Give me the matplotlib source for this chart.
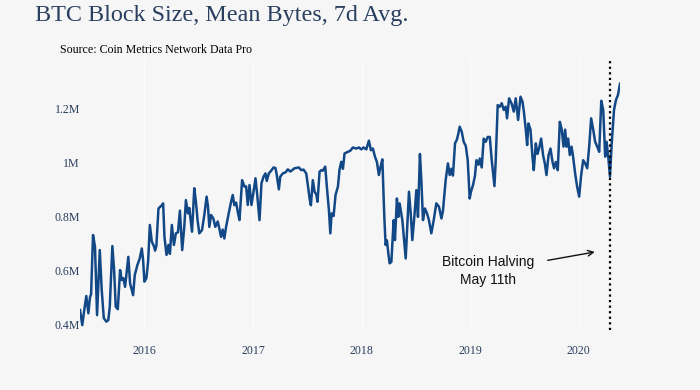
import matplotlib
matplotlib.use("Agg")
import matplotlib.pyplot as plt
import matplotlib.dates as mdates
import numpy as np
from datetime import datetime, timedelta

# decimal year of each 7d-average point
years = [
    2015.410, 2015.431, 2015.447, 2015.468, 2015.487, 2015.502, 2015.512, 2015.530,
    2015.548, 2015.567, 2015.592, 2015.610, 2015.629, 2015.653, 2015.671, 2015.684,
    2015.708, 2015.724, 2015.739, 2015.758, 2015.779, 2015.795, 2015.809, 2015.825,
    2015.855, 2015.871, 2015.899, 2015.914, 2015.938, 2015.960, 2015.979, 2015.991,
    2016.003, 2016.021, 2016.037, 2016.053, 2016.071, 2016.089, 2016.101, 2016.113,
    2016.132, 2016.163, 2016.175, 2016.187, 2016.206, 2016.224, 2016.237, 2016.255,
    2016.274, 2016.292, 2016.311, 2016.329, 2016.350, 2016.369, 2016.384, 2016.403,
    2016.415, 2016.440, 2016.461, 2016.476, 2016.491, 2016.507, 2016.532, 2016.553,
    2016.574, 2016.587, 2016.599, 2016.615, 2016.636, 2016.654, 2016.676, 2016.691,
    2016.707, 2016.722, 2016.737, 2016.753, 2016.777, 2016.799, 2016.814, 2016.829,
    2016.845, 2016.860, 2016.876, 2016.900, 2016.922, 2016.937, 2016.952, 2016.968,
    2016.986, 2017.005, 2017.023, 2017.039, 2017.060, 2017.078, 2017.097, 2017.115,
    2017.127, 2017.146, 2017.171, 2017.189, 2017.207, 2017.219, 2017.238, 2017.251,
    2017.275, 2017.300, 2017.321, 2017.343, 2017.361, 2017.382, 2017.422, 2017.444,
    2017.465, 2017.490, 2017.505, 2017.521, 2017.533, 2017.551, 2017.567, 2017.583,
    2017.594, 2017.613, 2017.629, 2017.643, 2017.665, 2017.680, 2017.699, 2017.712,
    2017.724, 2017.742, 2017.760, 2017.782, 2017.797, 2017.813, 2017.828, 2017.843,
    2017.874, 2017.896, 2017.920, 2017.951, 2017.975, 2017.997, 2018.018, 2018.043,
    2018.067, 2018.086, 2018.104, 2018.123, 2018.141, 2018.159, 2018.175, 2018.191,
    2018.209, 2018.221, 2018.233, 2018.246, 2018.258, 2018.274, 2018.295, 2018.307,
    2018.325, 2018.338, 2018.350, 2018.375, 2018.406, 2018.436, 2018.452, 2018.467,
    2018.488, 2018.504, 2018.519, 2018.537, 2018.550, 2018.565, 2018.583, 2018.602,
    2018.620, 2018.642, 2018.664, 2018.688, 2018.712, 2018.735, 2018.749, 2018.774,
    2018.795, 2018.811, 2018.827, 2018.841, 2018.860, 2018.878, 2018.891, 2018.903,
    2018.922, 2018.940, 2018.959, 2018.977, 2018.995, 2019.007, 2019.026, 2019.044,
    2019.057, 2019.076, 2019.088, 2019.106, 2019.124, 2019.143, 2019.161, 2019.180,
    2019.198, 2019.223, 2019.235, 2019.253, 2019.272, 2019.290, 2019.309, 2019.327,
    2019.339, 2019.358, 2019.380, 2019.401, 2019.419, 2019.441, 2019.463, 2019.481,
    2019.493, 2019.512, 2019.524, 2019.536, 2019.555, 2019.573, 2019.585, 2019.604,
    2019.619, 2019.634, 2019.653, 2019.671, 2019.687, 2019.702, 2019.721, 2019.739,
    2019.758, 2019.772, 2019.788, 2019.806, 2019.825, 2019.843, 2019.859, 2019.874,
    2019.887, 2019.901, 2019.917, 2019.933, 2019.947, 2019.966, 2019.984, 2020.003,
    2020.021, 2020.040, 2020.058, 2020.077, 2020.095, 2020.113, 2020.132, 2020.150,
    2020.169, 2020.187, 2020.206, 2020.224, 2020.242, 2020.255, 2020.270, 2020.286,
    2020.301, 2020.323, 2020.341, 2020.359, 2020.378,
]

# mean block size, millions of bytes
block_size_m = [
    0.452, 0.396, 0.446, 0.504, 0.440, 0.500, 0.510, 0.730,
    0.686, 0.433, 0.674, 0.526, 0.422, 0.409, 0.415, 0.464,
    0.689, 0.600, 0.464, 0.455, 0.600, 0.563, 0.570, 0.538,
    0.649, 0.551, 0.507, 0.581, 0.618, 0.643, 0.680, 0.637,
    0.557, 0.570, 0.631, 0.767, 0.705, 0.690, 0.672, 0.690,
    0.828, 0.840, 0.847, 0.723, 0.656, 0.693, 0.660, 0.767,
    0.693, 0.736, 0.740, 0.820, 0.674, 0.760, 0.859, 0.810,
    0.830, 0.742, 0.903, 0.853, 0.785, 0.736, 0.748, 0.804,
    0.872, 0.835, 0.760, 0.804, 0.791, 0.760, 0.780, 0.754,
    0.723, 0.750, 0.717, 0.760, 0.810, 0.853, 0.878, 0.840,
    0.850, 0.816, 0.785, 0.933, 0.909, 0.910, 0.841, 0.915,
    0.841, 0.890, 0.940, 0.878, 0.785, 0.921, 0.946, 0.958,
    0.930, 0.958, 0.970, 0.980, 0.978, 0.952, 0.899, 0.946,
    0.958, 0.962, 0.973, 0.965, 0.970, 0.977, 0.980, 0.970,
    0.972, 0.958, 0.915, 0.865, 0.840, 0.933, 0.890, 0.880,
    0.853, 0.964, 0.970, 0.968, 0.983, 0.909, 0.822, 0.736,
    0.810, 0.800, 0.878, 0.909, 0.973, 1.001, 0.975, 1.032,
    1.038, 1.042, 1.054, 1.050, 1.054, 1.047, 1.054, 1.047,
    1.079, 1.044, 1.050, 1.020, 1.000, 0.952, 0.983, 1.010,
    0.797, 0.693, 0.710, 0.662, 0.625, 0.630, 0.785, 0.711,
    0.865, 0.797, 0.847, 0.785, 0.643, 0.890, 0.810, 0.711,
    0.810, 0.896, 0.797, 1.030, 0.933, 0.785, 0.828, 0.810,
    0.785, 0.736, 0.785, 0.847, 0.835, 0.791, 0.820, 0.933,
    0.995, 0.952, 0.975, 0.950, 1.069, 1.084, 1.106, 1.131,
    1.112, 1.075, 1.060, 1.007, 0.865, 0.890, 0.915, 0.950,
    1.007, 0.990, 1.013, 0.980, 1.087, 1.075, 1.093, 1.093,
    1.007, 0.911, 1.007, 1.211, 1.205, 1.218, 1.193, 1.205,
    1.162, 1.236, 1.218, 1.187, 1.236, 1.156, 1.242, 1.224,
    1.190, 1.119, 1.063, 1.143, 1.120, 1.020, 0.970, 1.069,
    1.030, 1.050, 1.087, 1.025, 0.995, 0.952, 1.025, 1.050,
    1.000, 0.977, 1.000, 0.970, 1.149, 1.120, 1.057, 1.120,
    1.057, 1.087, 1.026, 1.057, 1.020, 0.958, 0.909, 0.872,
    0.950, 1.007, 0.995, 0.977, 1.057, 1.162, 1.120, 1.075,
    1.057, 1.038, 1.227, 1.193, 1.020, 1.075, 1.020, 0.946,
    1.063, 1.193, 1.230, 1.248, 1.290,
]

halving_year = 2020.286
arrow_year, arrow_value = 2020.147, 0.667
y_ticks = [0.4, 0.6, 0.8, 1.0, 1.2]
y_tick_labels = ["0.4M", "0.6M", "0.8M", "1M", "1.2M"]
x_tick_years = [2016, 2017, 2018, 2019, 2020]


def to_date(y):
    start = datetime(int(y), 1, 1)
    end = datetime(int(y) + 1, 1, 1)
    return start + timedelta(seconds=(y - int(y)) * (end - start).total_seconds())


dates = [to_date(y) for y in years]
bg = "#f6f6f6"
ink = "#2a3f5f"

fig = plt.figure(figsize=(7, 3.9), dpi=100, facecolor=bg)
ax = fig.add_axes([80 / 700, 60 / 390, 540 / 700, 270 / 390])
ax.set_facecolor(bg)

ax.plot(dates, block_size_m, color="#134887", linewidth=1.8, solid_joinstyle="round")

ax.set_xlim(dates[0], dates[-1])
ax.set_ylim(0.378, 1.378)

ax.set_yticks(y_ticks)
ax.set_yticklabels(y_tick_labels)
ax.set_xticks([datetime(y, 1, 1) for y in x_tick_years])
ax.xaxis.set_major_formatter(mdates.DateFormatter("%Y"))
ax.tick_params(axis="both", length=0, labelsize=8.6, labelcolor=ink,
               labelfontfamily="Liberation Serif")
ax.tick_params(axis="x", pad=11)
ax.tick_params(axis="y", pad=0)
ax.grid(axis="x", color="#fcfcfc", linewidth=1.0)
ax.grid(axis="y", visible=False)
for s in ax.spines.values():
    s.set_visible(False)

# halving marker
ax.axvline(to_date(halving_year), color="black", linestyle=(0, (1, 1.5)), linewidth=1.6)
ax.annotate("Bitcoin Halving\nMay 11th", xy=(to_date(arrow_year), arrow_value),
            xytext=(-107, -19), textcoords="offset pixels",
            ha="center", va="center", fontsize=10, family="Liberation Sans",
            color="#111111", linespacing=1.3,
            arrowprops=dict(arrowstyle="->", color="#111111", lw=1.0,
                            shrinkA=8, shrinkB=0))

fig.text(35 / 700, 1 - 15 / 390, "BTC Block Size, Mean Bytes, 7d Avg.",
         family="Liberation Serif", fontsize=17.4, color=ink, va="center")
fig.text(60 / 700, 1 - 50 / 390, "Source: Coin Metrics Network Data Pro",
         family="Liberation Serif", fontsize=8.6, color="black", va="center")

fig.savefig("out.png", dpi=100, facecolor=bg)
